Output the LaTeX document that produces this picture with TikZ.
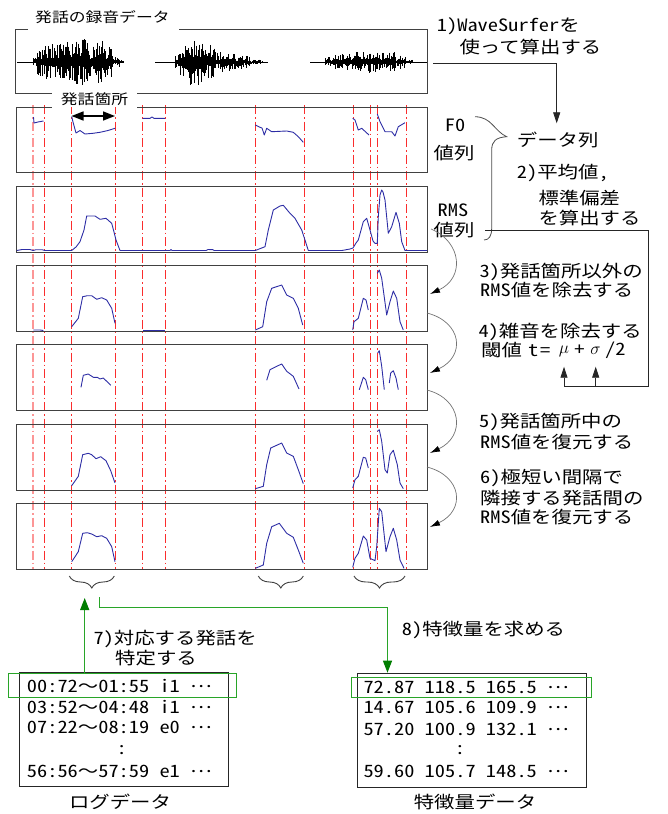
\documentclass[tikz,border=0pt]{standalone}
\usepackage{fontspec}
\setmainfont{Noto Sans CJK JP}[FakeStretch=1.2]
\newfontfamily\monof{Noto Sans CJK JP}[FakeStretch=1.2,RawFeature=+hwid]
\usetikzlibrary{arrows.meta,decorations.pathreplacing}
\newcommand\lat[1]{{\monof #1}}
\newcommand\dotsm{\raisebox{5pt}{…}}
\newcommand\jtext{\fontsize{17}{19.5}\selectfont}
\newcommand\jsmall{\fontsize{14}{16}\selectfont}
\definecolor{curve}{RGB}{45,45,165}
\definecolor{gline}{RGB}{40,165,40}
\definecolor{ghead}{RGB}{0,125,0}
\definecolor{frame}{RGB}{65,65,65}
\definecolor{redl}{RGB}{250,45,45}
\definecolor{redp}{RGB}{252,150,150}
\begin{document}
\begin{tikzpicture}[x=1pt,y=-1pt,
  panel/.style={draw=frame,line width=1pt,minimum width=411pt,minimum height=66pt,anchor=north west,inner sep=0pt},
  rline/.style={draw=redl,line width=0.9pt,dash pattern=on 9pt off 3pt on 1.5pt off 3pt},
  sig/.style={draw=curve,line width=0.9pt,line join=round},
  txt/.style={inner sep=0pt,anchor=west,font=\jtext},
  ctxt/.style={inner sep=0pt,anchor=center,font=\jtext},
  conn/.style={draw=black!85,line width=0.8pt},
  tip/.style={-{Triangle[length=11pt,width=7pt]}},
  carrow/.style={draw=black!55,line width=0.7pt,-{Latex[length=10pt,width=6pt,color=black]}},
  gconn/.style={draw=gline,line width=1.1pt},
  gtip/.style={-{Triangle[length=12pt,width=9pt,color=ghead]}},
  brc/.style={draw=black!75,line width=0.9pt,decorate,decoration={brace,amplitude=12pt,mirror}},
  tbl/.style={draw=black!85,line width=0.9pt,anchor=north west,inner sep=0pt},
  ghl/.style={draw=gline,line width=1.1pt,anchor=north west,inner sep=0pt},
]
\useasboundingbox (0,0) rectangle (667,814);

% ---------- waveform ----------
\node[inner sep=0pt,anchor=west,font=\jsmall] (wtitle) at (35,17) {発話の録音データ};
\draw[draw=frame,line width=1pt] (28,29) -- (15,29) -- (15,93) -- (427,93) -- (427,29) -- (179,29);
\draw[line width=0.6pt] (17,62) -- (123,62) (155,62) -- (268,62) (310,62) -- (427,62);
\pgfmathsetseed{12}
\foreach \s/\e/\a in {33/37/4, 37/45/15, 45/60/18, 60/75/20, 75/88/23, 88/95/16, 95/105/22, 105/112/15, 112/120/5, 120/123/2,
  175/180/8, 180/190/17, 190/205/23, 205/215/17, 215/235/10, 235/250/7, 250/262/2.5,
  325/335/5, 335/355/8, 355/370/11, 370/395/10, 395/405/7, 405/412/2.5}{
  \pgfmathsetmacro\wstep{\s+0.7}
  \foreach \x in {\s,\wstep,...,\e}{
    \draw[line width=0.5pt] (\x,{62-\a*(0.18+0.82*rnd^1.6)}) -- (\x,{62+\a*(0.18+0.82*rnd^1.6)});
  }
}

% ---------- red guide lines ----------
\draw[rline,draw=redp,line width=1.3pt] (33,105) -- (33,569);
\foreach \x in {44,71.5,115.3,142.7,165,255.3,304,353.3,370,377.3,406}{
  \draw[rline] (\x,105) -- (\x,569);
}

% ---------- F0 panel ----------
\draw[draw=frame,line width=1pt] (137,107) -- (427,107) -- (427,172) -- (16,172) -- (16,107) -- (52,107);
\node[fill=white,inner sep=0pt,minimum width=85pt,minimum height=15pt,font=\jsmall] (spans) at (94.5,99.5) {発話箇所};
\coordinate (da1) at (71.5,116);
\coordinate (da2) at (115,116);
\draw[line width=1.6pt,{Triangle[length=12pt,width=9pt]}-{Triangle[length=12pt,width=9pt]}] (da1) -- (da2);
\draw[sig] (33.5,117)--(34,123)--(38,122)--(43.5,121);
\draw[sig] (71.7,116.5)--(73,122)--(76,133)--(80,130.5)--(85,134)--(93,133.3)--(100,132.3)--(108,130.5)--(115,128.3);
\draw[sig] (142.7,118.3)--(150,118.3)--(152,117)--(154,118.3)--(165,118.3);
\draw[sig] (255.3,125)--(260,127.3)--(262,128)--(264.3,135)--(266.7,128.3)--(271.7,131.7)--(286.7,131)--(293.3,132.3)--(298.3,136.7)--(303.3,142.3);
\draw[sig] (352.7,118.3)--(355,120)--(358.3,130)--(361.7,128.3)--(369,135);
\draw[sig] (377.3,114)--(380,121.7)--(385,131.7)--(391.7,131.7)--(395,136)--(398.3,126.7)--(405,122.7);

% ---------- RMS panels ----------
\node[panel] (p2) at (16,186) {};
\node[panel] (p3) at (16,265) {};
\node[panel] (p4) at (16,344) {};
\node[panel] (p5) at (16,424) {};
\node[panel] (p6) at (16,503) {};

\draw[sig] (17,250.5)--(22,249.5)--(30,249.5)--(33,250.5)--(36,249.7)--(42,249.7)--(45,250.5)--(71.7,250.5)--(76,247)--(80,241.7)--(84,230)--(86.7,216)--(92,216)--(95,216)--(100,219.3)--(106,218.3)--(111.7,223.3)--(114,232)--(116,240)--(120,250.5)--(170,250.5)--(171,249.5)--(172,250.5)--(206,250.5)--(208,249.5)--(213,249.7)--(214,250.5)--(255.3,250.5)--(265,246.7)--(268.3,230)--(273.3,210)--(280,206)--(283.3,205.3)--(290,213.3)--(295,218.3)--(301.7,230)--(305,240)--(308.3,250.5)--(342,250.5)--(350,249)--(353,248)--(356,243)--(358.3,240)--(363.3,221.7)--(366.7,218.3)--(370,230)--(373,241)--(375,243.3)--(377.3,243.3)--(378.3,216.7)--(380,195)--(381.7,190)--(383,192)--(385,200)--(388.3,233.3)--(391.7,226.7)--(396,212.3)--(399.3,223.3)--(401.7,241.7)--(405,250.5)--(427,250.5);

\draw[sig] (33.3,330)--(40,330)--(43.3,330.5);
\draw[sig] (71.7,326.7)--(78.3,318.3)--(82.7,296.7)--(87.3,295.7)--(91.7,295.7)--(96.7,299.3)--(101.7,297.7)--(106.7,300)--(111.7,308.3)--(115,323.3);
\draw[sig,line width=1.3pt] (143,330.3)--(165,330.3);
\draw[sig] (255.3,330)--(262.7,326.7)--(266.7,301.7)--(271.7,288.3)--(281.7,285)--(286.7,295)--(293.3,298.3)--(298.3,308.3)--(302.7,325);
\draw[sig] (352.7,330)--(354,321.7)--(358.3,318.3)--(363.3,298.3)--(366,300)--(368.3,310);
\draw[sig] (377.3,273.3)--(379.3,270)--(381.7,278.3)--(386.7,315)--(390,301.7)--(393.3,291)--(396.7,298.3)--(400,321.7)--(403.3,330);

\draw[sig] (81,387.3)--(83.3,375.3)--(88.3,374)--(93.3,377.3)--(97.3,377.3)--(100,379)--(103.3,378)--(106.7,381.3)--(110.7,385.3);
\draw[sig] (266.7,380.3)--(270,369.7)--(276.7,366.3)--(281.7,364)--(286.7,371.3)--(293.3,376.3)--(299,389);
\draw[sig] (359.3,389.7)--(363.3,377.3)--(365.7,379.7)--(368.3,389.7);
\draw[sig] (377.7,353)--(379.3,350.7)--(381.7,366.3)--(384.3,389.7);
\draw[sig] (389.3,383)--(390.7,373)--(393.3,370.7)--(396,378)--(398.3,389.7);

\draw[sig] (71.7,485.7)--(78.3,476.3)--(82.7,454.7)--(88.3,453.3)--(91.7,454.7)--(96,458.7)--(100.7,456.7)--(106,460.7)--(110.7,470.7)--(115,483);
\draw[sig] (255.3,488.7)--(263.3,486.3)--(266.7,464.7)--(270.7,448)--(281.7,443)--(286.7,453)--(293.3,456.3)--(298.3,469.7)--(303.3,483.7);
\draw[sig] (352.7,488)--(355,479.7)--(358.3,476.3)--(363.3,457.3)--(365.7,458)--(368.3,468);
\draw[sig] (377.3,431.3)--(379.3,429.7)--(381.7,441.3)--(385,469.7)--(387.3,473)--(390,454.7)--(393.3,450.3)--(397.3,464.7)--(400,483)--(403.3,488.7);

\draw[sig] (71.7,561.7)--(78.3,551.7)--(82.7,533.3)--(87.3,532.7)--(91.7,534)--(96.7,536.7)--(101.7,535.7)--(106.7,538.3)--(111.7,546.7)--(115,561.7);
\draw[sig] (255.3,568.3)--(263.3,565)--(266.7,543.3)--(271.7,526.7)--(279.3,523.3)--(286.7,533.3)--(293.3,537.3)--(298.3,550)--(303.3,563.3);
\draw[sig] (352.7,567.3)--(355,558.3)--(358.3,553.3)--(363.3,536)--(366.7,540)--(370,558.3)--(375,560.7)--(376.7,546.7)--(379.3,508.3)--(381.7,511.7)--(386,551.7)--(390,536.7)--(393.3,528.3)--(396.7,540)--(400,560)--(404,568.3);

% ---------- braces under last panel ----------
\draw[brc] (69.3,576) -- (114.3,576);
\draw[brc] (258.3,576) -- (303.3,576);
\draw[brc] (354,576) -- (405,576);

% ---------- right side texts ----------
\node[txt] (t1a) at (436.7,26.7) {\lat{1)WaveSurfer}を};
\node[txt] (t1b) at (459.3,46.7) {使って算出する};
\node[txt] (tdata) at (516.7,140) {データ列};
\node[ctxt] (f0a) at (455,125) {\lat{F0}};
\node[ctxt] (f0b) at (454,153) {値列};
\node[txt] (t2a) at (516.7,173.3) {\lat{2)}平均値\lat{,}};
\node[txt] (t2b) at (538.3,198.3) {標準偏差};
\node[txt] (t2c) at (538.3,218.3) {を算出する};
\node[ctxt] (rmsa) at (453,210) {\lat{RMS}};
\node[ctxt] (rmsb) at (454,230) {値列};
\node[txt] (t3a) at (479.3,271.7) {\lat{3)}発話箇所以外の};
\node[txt] (t3b) at (480,290) {\lat{RMS}値を除去する};
\node[txt] (t4a) at (478.3,331.7) {\lat{4)}雑音を除去する};
\node[txt] (t4b) at (481,350) {閾値\hspace*{6pt}\lat{t}\hspace*{2pt}\lat{=}};
\node[ctxt,font=\fontsize{19}{20}\selectfont] (mu) at (564,351) {$\mu$};
\node[ctxt] (plus) at (579.5,350) {\lat{+}};
\node[ctxt,font=\fontsize{19}{20}\selectfont] (sg) at (595.5,351) {$\sigma$};
\node[txt] (half) at (605,350) {\lat{/2}};
\node[txt] (t5a) at (479,422) {\lat{5)}発話箇所中の};
\node[txt] (t5b) at (480,441.7) {\lat{RMS}値を復元する};
\node[txt] (t6a) at (480,478.3) {\lat{6)}極短い間隔で};
\node[txt] (t6b) at (480,498) {隣接する発話間の};
\node[txt] (t6c) at (480,517.3) {\lat{RMS}値を復元する};

% F0/RMS brace
\draw[line width=0.8pt,black!70] (475,116.7) .. controls (492,117) and (494,131) .. (506.7,136.7)
  .. controls (496,137.5) and (491.7,141) .. (491.7,150) -- (491.7,228) .. controls (491.7,236) and (489,240) .. (484,240);

% step 1 connector
\coordinate (w1) at (433,63.3);
\coordinate (dtip) at (556.7,123.3);
\draw[conn,tip] (w1) -| (dtip);

% step 2 connector to mu and sigma
\coordinate (r0) at (485,230);
\coordinate (r1) at (648.3,386.7);
\coordinate (mut) at (564,366.7);
\coordinate (sgt) at (595.7,366.7);
\draw[conn] (r0) -| (r1) -- (mut |- r1);
\draw[conn,tip] (mut |- r1) -- (mut);
\draw[conn,tip] (sgt |- r1) -- (sgt);

% curved step arrows
\coordinate (a3s) at (431,229);  \coordinate (a3e) at (430,294);
\coordinate (a4s) at (427,313);  \coordinate (a4e) at (430,373);
\coordinate (a5s) at (427,390);  \coordinate (a5e) at (430,453);
\coordinate (a6s) at (427,467);  \coordinate (a6e) at (430,527);
\draw[carrow] (a3s) .. controls (462,242) and (465,278) .. (a3e);
\draw[carrow] (a4s) .. controls (462,322) and (466,356) .. (a4e);
\draw[carrow] (a5s) .. controls (462,399) and (466,436) .. (a5e);
\draw[carrow] (a6s) .. controls (462,476) and (466,510) .. (a6e);

% ---------- bottom tables ----------
\node[tbl,minimum width=208.7pt,minimum height=114pt] (logbox) at (19,671.7) {};
\node[ghl,minimum width=227.4pt,minimum height=23.4pt] (loghl) at (8.3,673.3) {};
\node[txt] (l1) at (26.7,686) {\lat{00:72}～\lat{01:55 i1 }\dotsm};
\node[txt] (l2) at (26.7,706.7) {\lat{03:52}～\lat{04:48 i1 }\dotsm};
\node[txt] (l3) at (26.7,727.7) {\lat{07:22}～\lat{08:19 e0 }\dotsm};
\node[ctxt] (l4) at (121.7,750.5) {\lat{:}};
\node[txt] (l5) at (26.7,771.7) {\lat{56:56}～\lat{57:59 e1 }\dotsm};
\node[ctxt] (logname) at (120,801.7) {ログデータ};

\node[tbl,minimum width=229.3pt,minimum height=114.6pt] (featbox) at (356.7,672.7) {};
\node[ghl,minimum width=240pt,minimum height=20.6pt] (feathl) at (350.7,676.7) {};
\node[txt] (f1) at (363.3,687.3) {\lat{72.87 118.5 165.5 }\dotsm};
\node[txt] (f2) at (363.3,707.3) {\lat{14.67 105.6 109.9 }\dotsm};
\node[txt] (f3) at (363.3,729.3) {\lat{57.20 100.9 132.1 }\dotsm};
\node[ctxt] (f4) at (460,750.5) {\lat{:}};
\node[txt] (f5) at (363.3,771.7) {\lat{59.60 105.7 148.5 }\dotsm};
\node[ctxt] (featname) at (475,801.7) {特徴量データ};

\node[txt] (t7a) at (93.3,639.3) {\lat{7)}対応する発話を};
\node[txt] (t7b) at (115,658.3) {特定する};
\node[txt] (t8) at (401.7,630) {\lat{8)}特徴量を求める};

% green connectors
\coordinate (gup) at (84.7,598);
\draw[gconn,gtip] (loghl.north -| gup) -- (gup);
\coordinate (gs) at (99.3,597);
\coordinate (gturn) at (387.5,607.7);
\draw[gconn,gtip] (gs) |- (gturn) -- (featbox.north -| gturn);
\end{tikzpicture}
\end{document}
